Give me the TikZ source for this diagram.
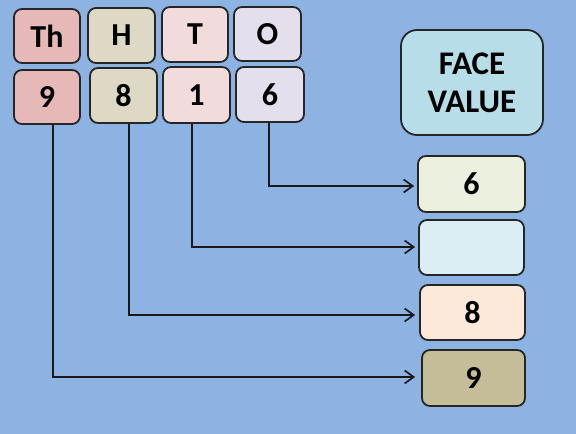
\documentclass[tikz,border=0pt]{standalone}
\usepackage{fontspec}
\setmainfont{Carlito}
\usetikzlibrary{arrows.meta}
\definecolor{bg}{HTML}{8DB3E2}
\definecolor{cTh}{HTML}{E6B8B7}
\definecolor{cH}{HTML}{DDD9C4}
\definecolor{cT}{HTML}{F2DCDB}
\definecolor{cO}{HTML}{E4DFEC}
\definecolor{cFV}{HTML}{B7DEE8}
\definecolor{cR6}{HTML}{EBF1DE}
\definecolor{cR1}{HTML}{DAEEF3}
\definecolor{cR8}{HTML}{FDE9D9}
\definecolor{cR9}{HTML}{C4BD97}
\begin{document}
\begin{tikzpicture}[x=1pt,y=-1pt,
  cell/.style={draw=black!85, line width=1.8pt, rounded corners=8pt, inner sep=0pt,
    font=\fontsize{32}{36}\selectfont\bfseries, text=black},
  conn/.style={line width=1.7pt, draw=black!90, -{Straight Barb[length=9pt,width=13pt,line width=1.7pt]}}]
\fill[bg] (0,0) rectangle (576,434);
\useasboundingbox (0,0) rectangle (576,434);
% top row
\node[cell, fill=cTh, minimum width=66pt, minimum height=54pt] (hTh) at (47,36) {Th};
\node[cell, fill=cH, minimum width=67pt, minimum height=55pt] (hH) at (121.5,35.5) {H};
\node[cell, fill=cT, minimum width=66pt, minimum height=55pt] (hT) at (195,34.5) {T};
\node[cell, fill=cO, minimum width=67pt, minimum height=54pt] (hO) at (267.5,34) {O};
% digit row
\node[cell, fill=cTh, minimum width=66pt, minimum height=54pt] (d9) at (47,97) {9};
\node[cell, fill=cH, minimum width=67pt, minimum height=55pt] (d8) at (123.5,95.5) {8};
\node[cell, fill=cT, minimum width=67pt, minimum height=56pt] (d1) at (196.5,95) {1};
\node[cell, fill=cO, minimum width=68pt, minimum height=55pt] (d6) at (270,94.5) {6};
% face value
\node[cell, fill=cFV, minimum width=142pt, minimum height=105pt, rounded corners=16pt, align=center,
  font=\fontsize{33}{38}\selectfont\bfseries] (fv) at (472,82.5) {FACE\\VALUE};
% right column
\node[cell, fill=cR6, minimum width=107pt, minimum height=56pt] (r6) at (471.5,184) {6};
\node[cell, fill=cR1, minimum width=105pt, minimum height=55pt] (r1) at (471.5,247.5) {};
\node[cell, fill=cR8, minimum width=105pt, minimum height=55pt] (r8) at (472.5,312.5) {8};
\node[cell, fill=cR9, minimum width=103pt, minimum height=56pt] (r9) at (473.5,378) {9};
% connectors
\draw[conn] ([xshift=-1pt]d6.south) |- ([xshift=-3pt,yshift=-2pt]r6.west);
\draw[conn] ([xshift=-4.5pt]d1.south) |- ([xshift=-3pt,yshift=0.5pt]r1.west);
\draw[conn] ([xshift=5.5pt]d8.south) |- ([xshift=-4pt,yshift=-2.5pt]r8.west);
\draw[conn] ([xshift=6pt]d9.south) |- ([xshift=-6pt,yshift=1pt]r9.west);
\end{tikzpicture}
\end{document}
